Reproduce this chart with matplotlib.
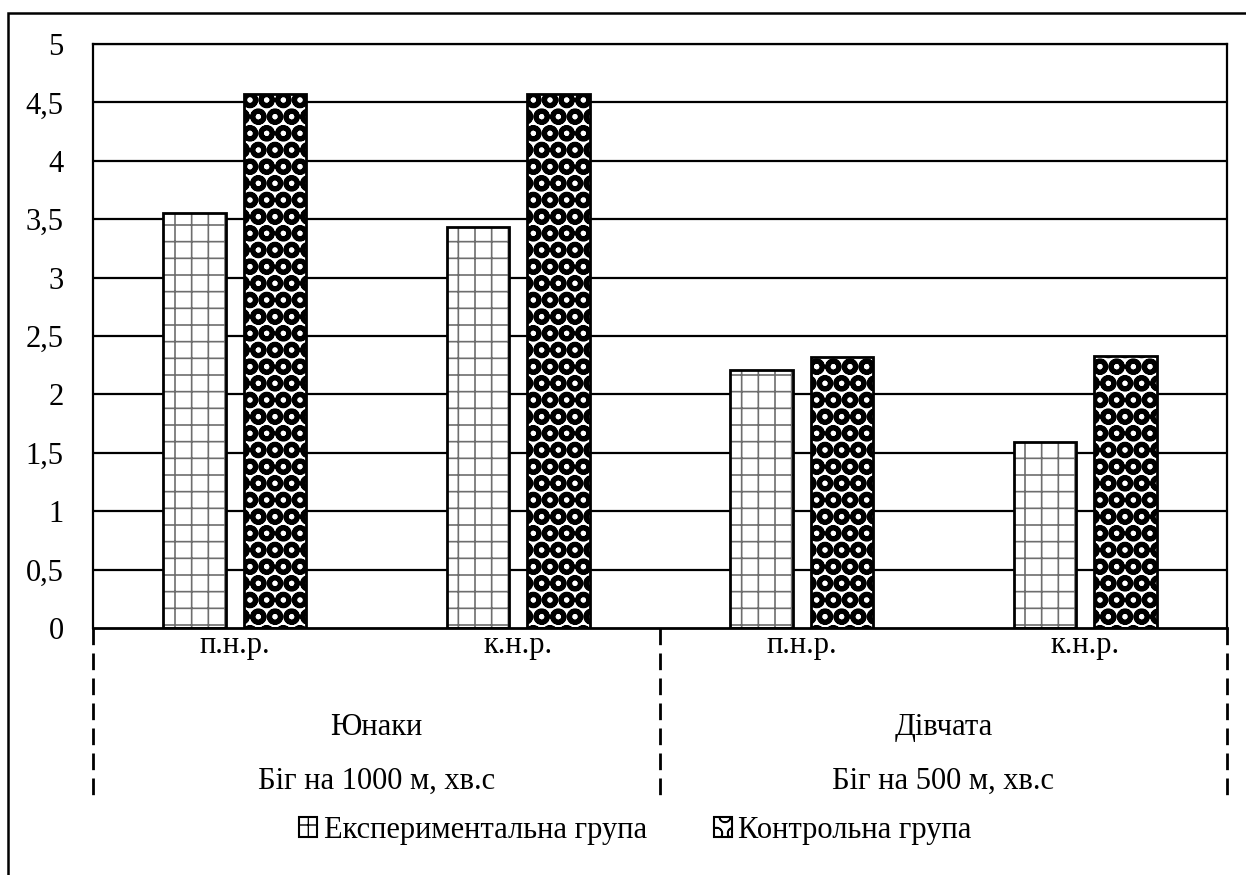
import matplotlib
matplotlib.use("Agg")
import matplotlib.pyplot as plt
import numpy as np
from matplotlib.patches import Patch, Rectangle
from matplotlib.lines import Line2D

# results of the running tests (minutes.seconds)
categories = ["п.н.р.", "к.н.р.", "п.н.р.", "к.н.р."]
groups = ["Юнаки", "Дівчата"]
tests = ["Біг на 1000 м, хв.с", "Біг на 500 м, хв.с"]
experimental = [3.55, 3.43, 2.21, 1.59]
control = [4.57, 4.57, 2.32, 2.33]
series_names = ["Експериментальна група", "Контрольна група"]
yticks = [0, 0.5, 1, 1.5, 2, 2.5, 3, 3.5, 4, 4.5, 5]

plt.rcParams["font.family"] = ["Liberation Serif", "DejaVu Serif"]
FS = 22


def draw_bars(ax, x, values, face, hatch_color, hatch, hlw):
    # hatch first (it follows edgecolor), then a clean black outline
    with plt.rc_context({"hatch.linewidth": hlw}):
        ax.bar(x, values, width=0.222, color=face, edgecolor=hatch_color,
               hatch=hatch, linewidth=0, zorder=3)
    ax.bar(x, values, width=0.222, color="none", edgecolor="black",
           linewidth=2.0, zorder=4)


fig = plt.figure(figsize=(12.46, 8.75), dpi=100)
ax = fig.add_axes([93 / 1246, 1 - 628 / 875, (1227 - 93) / 1246, (628 - 44) / 875])

x = np.arange(len(categories))
off = 0.142
draw_bars(ax, x - off, experimental, "white", "#6e6e6e", "+", 1.2)
draw_bars(ax, x + off, control, "white", "black", "O", 3.5)

ax.set_xlim(-0.5, len(categories) - 0.5)
ax.set_ylim(0, 5)
ax.set_yticks(yticks)
ax.set_yticklabels([("%g" % v).replace(".", ",") for v in yticks], fontsize=FS)
ax.tick_params(axis="y", length=0, pad=21)
ax.set_xticks([])
for y in yticks[1:]:
    ax.axhline(y, color="black", linewidth=1.6, zorder=1)
for side in ["left", "right", "top"]:
    ax.spines[side].set_linewidth(1.6)
ax.spines["bottom"].set_linewidth(2.0)
ax.spines["bottom"].set_zorder(5)

# multi-level category labels
trans = ax.get_xaxis_transform()
for i, c in enumerate(categories):
    ax.text(i, -0.03, c, ha="center", va="center", fontsize=FS, transform=trans)
for j in range(len(groups)):
    ax.text(2 * j + 0.5, -0.17, groups[j], ha="center", va="center",
            fontsize=FS, transform=trans)
    ax.text(2 * j + 0.5, -0.262, tests[j], ha="center", va="center",
            fontsize=FS, transform=trans)
for xs in [-0.5, 1.5, 3.5]:
    ax.add_line(Line2D([xs, xs], [0, -0.291], transform=trans, color="black",
                       linewidth=2.0, linestyle=(0, (6, 3)), clip_on=False))

handles = [
    Patch(facecolor="white", edgecolor="#6e6e6e", hatch="+", linewidth=0),
    Patch(facecolor="white", edgecolor="black", hatch="O", linewidth=0),
]
leg = fig.legend(handles, series_names, loc="center", bbox_to_anchor=(0.51, 0.051),
                 ncol=2, frameon=False, fontsize=FS, handlelength=0.6,
                 handleheight=0.6, handletextpad=0.2, columnspacing=2.2)
for h in leg.legend_handles:
    h.set_edgecolor("black")
    h.set_linewidth(1.5)

# outer frame of the chart
fig.add_artist(Rectangle((8 / 1246, -0.01), 1.2, 1 - 13 / 875 + 0.01,
                         transform=fig.transFigure, fill=False,
                         edgecolor="black", linewidth=1.8))

fig.savefig("out.png", dpi=100)
